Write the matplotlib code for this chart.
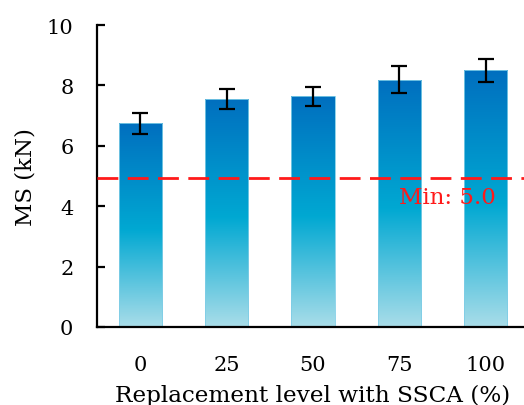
import numpy as np
import matplotlib.pyplot as plt
from matplotlib.colors import LinearSegmentedColormap

# replacement level (%) and marshall stability (kN)
levels = ["0", "25", "50", "75", "100"]
ms_mean = [6.75, 7.56, 7.64, 8.19, 8.50]
ms_err = [0.35, 0.33, 0.32, 0.44, 0.39]
ms_min = 4.92
min_label = "Min: 5.0"

plt.rcParams['font.family'] = ['DejaVu Serif']

# excel-like gradient, light at bottom, dark blue at top
grad = LinearSegmentedColormap.from_list(
    "bar_grad", [(0.0, "#a9dde9"), (0.48, "#00a8d2"), (1.0, "#006fbf")])

fig = plt.figure(figsize=(5.24, 4.06), dpi=100)
ax = fig.add_axes([97 / 524, 78 / 406, 432 / 524, 302 / 406])

x = np.arange(len(levels))
bars = ax.bar(x, ms_mean, width=0.5, color="none", edgecolor="#7fcde6",
              linewidth=0.6, zorder=2)

# fill each bar with the vertical gradient
g = np.linspace(0, 1, 256).reshape(-1, 1)
for b in bars:
    x0, w, h = b.get_x(), b.get_width(), b.get_height()
    im = ax.imshow(g, cmap=grad, origin="lower", aspect="auto",
                   extent=(x0, x0 + w, 0, h), zorder=1)
    im.set_clip_path(b)

ax.errorbar(x, ms_mean, yerr=ms_err, fmt="none", ecolor="black",
            elinewidth=1.6, capsize=5.5, capthick=1.6, zorder=4)

ax.axhline(ms_min, color="#ff1a1a", linewidth=2.0, dashes=(7.5, 3.4), zorder=3)
ax.text(3.0, 4.3, min_label, color="#ff1a1a", fontsize=16.5,
        ha="left", va="center", zorder=5)

ax.set_xlim(-0.5, 4.5)
ax.set_ylim(0, 10)
ax.set_yticks([0, 2, 4, 6, 8, 10])
ax.set_xticks(x)
ax.set_xticklabels(levels)

for s in ["top", "right"]:
    ax.spines[s].set_visible(False)
for s in ["left", "bottom"]:
    ax.spines[s].set_linewidth(1.6)

ax.tick_params(axis="y", direction="in", length=6, width=1.6, pad=17,
               labelsize=15)
ax.tick_params(axis="x", length=0, pad=20, labelsize=15)

ax.set_xlabel("Replacement level with SSCA (%)", fontsize=16.7, labelpad=7)
ax.set_ylabel("MS (kN)", fontsize=16.5, labelpad=7)

fig.savefig("out.png", dpi=100)
